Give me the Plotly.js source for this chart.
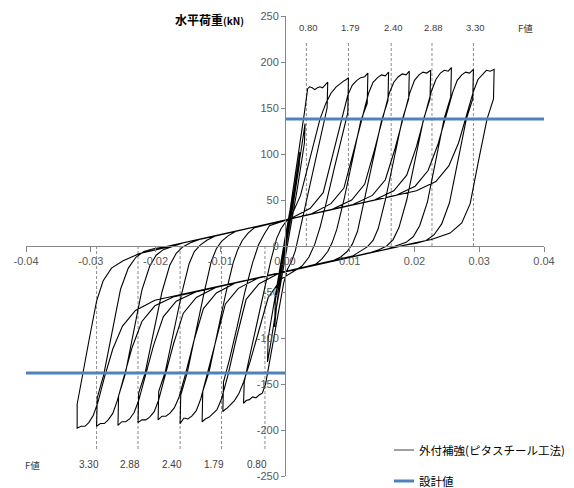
<!DOCTYPE html>
<html>
<head>
<meta charset="utf-8">
<script src="https://cdn.plot.ly/plotly-3.0.1.min.js"></script>
<style>html,body{margin:0;padding:0;background:#fff;}#chart{width:574px;height:488px;}</style>
</head>
<body>
<div id="chart"></div>
<script>
// ---- axis ticks ----
const xTickVals = [-0.04, -0.03, -0.02, -0.01, 0, 0.01, 0.02, 0.03, 0.04];
const xTickText = ['-0.04', '-0.03', '-0.02', '-0.01', '0.00', '0.01', '0.02', '0.03', '0.04'];
const yTickVals = [-250, -200, -150, -100, -50, 0, 50, 100, 150, 200, 250];
const yTickText = ['-250', '-200', '-150', '-100', '-50', '0', '50', '100', '150', '200', '250'];

// ---- F value markers ----
const fTopX = [0.0033, 0.0098, 0.0164, 0.0227, 0.0291];
const fTopLabels = ['0.80', '1.79', '2.40', '2.88', '3.30'];
const fBotX = [-0.0291, -0.0227, -0.0162, -0.0098, -0.0031];
const fBotLabels = ['3.30', '2.88', '2.40', '1.79', '0.80'];
const fTitle = 'F値';

// ---- design value ----
const designLoad = 138;
const seriesName = '外付補強(ピタスチール工法)';
const designName = '設計値';

// ---- hysteresis data (drift angle rad, load kN), in loading order ----
const s0X = [0, 0.0006, 0.0011, 0.0010, 0.0002, -0.0004, -0.0010, -0.0011, -0.0010, -0.0002, 0.0006, 0.0014, 0.0020, 0.0023, 0.0022, 0.0012, 0.0002, -0.0006, -0.0013, -0.0016, -0.0015, -0.0006, 0.0004, 0.0014, 0.0024, 0.0031, 0.0030, 0.0019, 0.0008, -0.0004, -0.0014, -0.0023, -0.0027, -0.0026, -0.0015, -0.0004, 0.0008, 0.0020, 0.0030];
const s0Y = [0, 28, 52, 42, 8, -14, -45, -52, -42, -8, 24, 60, 88, 102, 88, 42, 2, -30, -65, -88, -60, -22, 14, 56, 100, 133, 112, 62, 18, -28, -70, -110, -126, -100, -52, -8, 40, 95, 145];

const l1X = [0.0035, 0.0038, 0.0042, 0.0046, 0.0050, 0.0054, 0.0058, 0.0062, 0.0066, 0.0065, 0.0056, 0.0045, 0.0034, 0.0024, 0.0016, 0.0010, 0.0004, -0.0002, -0.0012, -0.0022, -0.0030, -0.0035, -0.0040, -0.0045, -0.0050, -0.0055, -0.0060, -0.0064, -0.0063, -0.0054, -0.0043, -0.0032, -0.0022, -0.0013, -0.0006, 0.0002];
const l1Y = [171, 173, 172, 170, 172, 173, 172, 175, 178, 150, 122, 88, 52, 20, -5, -17, -25, -40, -80, -120, -150, -160, -162, -165, -164, -167, -168, -171, -148, -118, -84, -48, -16, 8, 19, 27];

const l2X = [0.0012, 0.0024, 0.0034, 0.0044, 0.0054, 0.0063, 0.0071, 0.0079, 0.0086, 0.0092, 0.0095, 0.0098, 0.0097, 0.0088, 0.0076, 0.0064, 0.0054, 0.0046, 0.0037, 0.0026, -0.0006, -0.0026, -0.0041, -0.0054, -0.0064, -0.0071, -0.0078, -0.0084, -0.0089, -0.0093, -0.0096, -0.0095, -0.0086, -0.0074, -0.0062, -0.0050, -0.0041, -0.0032, -0.0024];
const l2Y = [36, 55, 82, 112, 138, 155, 166, 173, 177, 180, 181, 183, 145, 120, 84, 48, 20, 2, -12, -22, -36, -56, -95, -126, -148, -160, -168, -173, -176, -178, -180, -148, -124, -88, -50, -18, 1, 13, 22];

const l3X = [0.0009, 0.0039, 0.0059, 0.0074, 0.0087, 0.0097, 0.0104, 0.0111, 0.0117, 0.0123, 0.0128, 0.0127, 0.0117, 0.0104, 0.0091, 0.0080, 0.0073, 0.0066, 0.0057, 0.0047, -0.0010, -0.0040, -0.0060, -0.0075, -0.0088, -0.0098, -0.0105, -0.0111, -0.0117, -0.0123, -0.0128, -0.0127, -0.0117, -0.0104, -0.0091, -0.0080, -0.0073, -0.0066, -0.0057, -0.0047];
const l3Y = [30, 41, 58, 100, 138, 164, 175, 180, 183, 184, 188, 155, 136, 93, 50, 18, 4, -6, -14, -20, -30, -41, -58, -100, -140, -166, -178, -182, -186, -188, -191, -158, -136, -93, -50, -18, -4, 6, 14, 20];

const l4X = [0.0041, 0.0071, 0.0091, 0.0106, 0.0119, 0.0129, 0.0136, 0.0143, 0.0149, 0.0155, 0.0160, 0.0159, 0.0149, 0.0136, 0.0123, 0.0112, 0.0104, 0.0096, 0.0086, 0.0074, -0.0042, -0.0072, -0.0092, -0.0107, -0.0120, -0.0130, -0.0137, -0.0144, -0.0150, -0.0156, -0.0162, -0.0161, -0.0151, -0.0138, -0.0125, -0.0114, -0.0106, -0.0098, -0.0088, -0.0076];
const l4Y = [35, 46, 63, 103, 140, 166, 178, 183, 186, 185, 189, 158, 136, 93, 50, 16, 2, -6, -12, -16, -35, -46, -63, -103, -140, -166, -179, -185, -188, -187, -193, -162, -138, -94, -51, -17, -3, 5, 11, 16];

const l5X = [0.0073, 0.0103, 0.0123, 0.0138, 0.0151, 0.0161, 0.0168, 0.0175, 0.0181, 0.0187, 0.0192, 0.0191, 0.0181, 0.0168, 0.0155, 0.0144, 0.0136, 0.0127, 0.0116, 0.0104, -0.0076, -0.0106, -0.0126, -0.0141, -0.0154, -0.0164, -0.0171, -0.0178, -0.0184, -0.0190, -0.0196, -0.0195, -0.0185, -0.0172, -0.0159, -0.0148, -0.0140, -0.0131, -0.0120, -0.0107];
const l5Y = [40, 50, 67, 104, 140, 166, 178, 184, 187, 186, 190, 160, 137, 93, 50, 19, 6, -1, -6, -11, -40, -51, -68, -104, -140, -165, -176, -182, -185, -185, -189, -158, -137, -94, -50, -19, -6, 1, 6.5, 11];

const l6X = [0.0105, 0.0135, 0.0155, 0.0170, 0.0183, 0.0193, 0.0200, 0.0207, 0.0213, 0.0219, 0.0225, 0.0224, 0.0214, 0.0201, 0.0188, 0.0176, 0.0167, 0.0157, 0.0145, 0.0130, -0.0107, -0.0137, -0.0157, -0.0172, -0.0185, -0.0195, -0.0202, -0.0209, -0.0215, -0.0221, -0.0227, -0.0226, -0.0216, -0.0203, -0.0190, -0.0178, -0.0168, -0.0158, -0.0146, -0.0130];
const l6Y = [45, 55, 72, 106, 141, 167, 180, 186, 189, 188, 191, 160, 138, 94, 50, 20, 7, 0, -4, -7.5, -45, -56, -73, -106, -141, -167, -180, -186, -189, -189, -192, -160, -138, -94, -50, -21, -8, -1, 3.5, 7.5];

const l7X = [0.0138, 0.0168, 0.0188, 0.0203, 0.0216, 0.0226, 0.0233, 0.0240, 0.0246, 0.0252, 0.0257, 0.0256, 0.0246, 0.0233, 0.0220, 0.0208, 0.0198, 0.0187, 0.0174, 0.0158, -0.0138, -0.0168, -0.0188, -0.0203, -0.0216, -0.0226, -0.0233, -0.0240, -0.0246, -0.0252, -0.0258, -0.0257, -0.0247, -0.0234, -0.0221, -0.0209, -0.0199, -0.0188, -0.0175, -0.0158];
const l7Y = [50, 60, 77, 108, 142, 168, 181, 188, 191, 190, 194, 162, 139, 94, 48, 22, 10, 4, 0.5, -3.3, -50, -60, -77, -108, -142, -168, -181, -188, -191, -191, -195, -163, -140, -94, -48, -22, -10, -4, -0.5, 3.3];

const l8X = [0.0171, 0.0201, 0.0221, 0.0236, 0.0249, 0.0259, 0.0266, 0.0273, 0.0279, 0.0285, 0.0291, 0.0290, 0.0280, 0.0267, 0.0254, 0.0242, 0.0230, 0.0218, 0.0203, 0.0185, -0.0171, -0.0201, -0.0221, -0.0236, -0.0249, -0.0259, -0.0266, -0.0273, -0.0279, -0.0285, -0.0291, -0.0290, -0.0280, -0.0267, -0.0254, -0.0242, -0.0230, -0.0218, -0.0203, -0.0185];
const l8Y = [55, 65, 82, 110, 142, 167, 180, 186, 189, 188, 192, 160, 138, 93, 47, 24, 12, 6, 3, 0.8, -55, -65, -82, -110, -143, -168, -182, -189, -193, -193, -196, -165, -140, -94, -47, -24, -12, -6, -3, -0.8];

const l9X = [0.0203, 0.0233, 0.0253, 0.0268, 0.0281, 0.0291, 0.0298, 0.0305, 0.0311, 0.0317, 0.0323, 0.0322, 0.0312, 0.0299, 0.0286, 0.0273, 0.0255, 0.0226, 0.0201, 0.0170, -0.0201, -0.0231, -0.0251, -0.0266, -0.0279, -0.0289, -0.0296, -0.0303, -0.0309, -0.0315, -0.0321, -0.0321, -0.0313, -0.0302, -0.0291, -0.0281, -0.0268, -0.0250, -0.0224, -0.0195, -0.0165];
const l9Y = [60, 70, 87, 112, 143, 168, 181, 187, 191, 190, 192, 160, 138, 93, 46, 25, 14, 7, 3.6, -1.5, -59, -70, -87, -112, -143, -170, -184, -192, -196, -196, -198, -172, -140, -100, -60, -38, -24, -16, -8, -3, 1.5];

const hystX = [].concat(s0X, l1X, l2X, l3X, l4X, l5X, l6X, l7X, l8X, l9X);
const hystY = [].concat(s0Y, l1Y, l2Y, l3Y, l4Y, l5Y, l6Y, l7Y, l8Y, l9Y);

// ---- build traces ----
const xMin = xTickVals[0], xMax = xTickVals[xTickVals.length - 1];
const dashTop = 222, dashBot = -222;
const dX = [], dY = [];
fTopX.forEach(v => { dX.push(v, v, null); dY.push(0, dashTop, null); });
fBotX.forEach(v => { dX.push(v, v, null); dY.push(0, dashBot, null); });

const hystColor = '#000000', designColor = '#4F81BD';
const traces = [
  { x: dX, y: dY, mode: 'lines', showlegend: false, hoverinfo: 'skip',
    line: { color: '#8c8c8c', width: 1, dash: '3px,2px' } },
  { x: hystX, y: hystY, mode: 'lines', name: seriesName, showlegend: false,
    line: { color: hystColor, width: 1.1 } },
  { x: [0, xMax, null, xMin, 0], y: [designLoad, designLoad, null, -designLoad, -designLoad],
    mode: 'lines', name: designName, showlegend: false,
    line: { color: designColor, width: 3 } }
];

// pixel helpers for paper-positioned legend (plot area: x 26..544, y 16..476)
const PL = 26, PR = 544, PT = 16, PB = 476;
const px = v => (v - PL) / (PR - PL);
const py = v => (PB - v) / (PB - PT);

const labFont = { family: 'Liberation Sans, Arial, sans-serif', size: 9.5, color: '#404040' };
const annotations = [];
fTopX.forEach((v, i) => annotations.push({ x: v, y: 237, xref: 'x', yref: 'y', text: fTopLabels[i],
  showarrow: false, xshift: 2, font: labFont }));
fBotX.forEach((v, i) => annotations.push({ x: v, y: -238, xref: 'x', yref: 'y', text: fBotLabels[i],
  showarrow: false, xshift: -8, font: Object.assign({}, labFont, { size: 10 }) }));
annotations.push({ x: 0.0372, y: 237, xref: 'x', yref: 'y', text: fTitle, showarrow: false,
  font: { family: 'Noto Sans CJK JP', size: 9.5, color: '#404040' } });
annotations.push({ x: -0.0390, y: -238, xref: 'x', yref: 'y', text: fTitle, showarrow: false,
  font: { family: 'Noto Sans CJK JP', size: 9.5, color: '#404040' } });
annotations.push({ x: -0.0060, y: 246, xref: 'x', yref: 'y', xanchor: 'right', yanchor: 'middle',
  text: '<b>水平荷重<span style="font-size:10px">(kN)</span></b>', showarrow: false,
  font: { family: 'Noto Sans CJK JP', size: 12, color: '#000' } });
annotations.push({ x: 0.0435, y: -37, xref: 'x', yref: 'y', xanchor: 'right', yanchor: 'middle',
  text: '<b>層間変形角<span style="font-size:10px">(rad)</span></b>', showarrow: false,
  font: { family: 'Noto Sans CJK JP', size: 12, color: '#000' } });
// legend texts
const legFont = { family: 'Noto Sans CJK JP', size: 11.5, color: '#000' };
annotations.push({ x: px(417), y: py(450), xref: 'paper', yref: 'paper', xanchor: 'left', yanchor: 'middle',
  text: seriesName, showarrow: false, font: legFont });
annotations.push({ x: px(417), y: py(481), xref: 'paper', yref: 'paper', xanchor: 'left', yanchor: 'middle',
  text: designName, showarrow: false, font: legFont });

const shapes = [
  { type: 'line', xref: 'paper', yref: 'paper', x0: px(394), x1: px(414), y0: py(450), y1: py(450),
    line: { color: '#404040', width: 1 } },
  { type: 'line', xref: 'paper', yref: 'paper', x0: px(394), x1: px(414), y0: py(481), y1: py(481),
    line: { color: designColor, width: 3 } }
];

const tickFont = { family: 'Liberation Sans, Arial, sans-serif', size: 11, color: '#595959' };
const layout = {
  width: 574, height: 488,
  margin: { l: PL, r: 574 - PR, t: PT, b: 488 - PB, pad: 0 },
  paper_bgcolor: '#ffffff', plot_bgcolor: '#ffffff',
  showlegend: false,
  xaxis: { range: [xMin, xMax], anchor: 'free', position: 0.5, showline: true, linecolor: '#868686',
    linewidth: 1, ticks: 'outside', ticklen: 5, tickcolor: '#868686', tickmode: 'array',
    tickvals: xTickVals, ticktext: xTickText, tickfont: tickFont, showgrid: false, zeroline: false,
    fixedrange: true },
  yaxis: { range: [yTickVals[0], yTickVals[yTickVals.length - 1]], anchor: 'free', position: 0.5,
    showline: true, linecolor: '#868686', linewidth: 1, ticks: 'outside', ticklen: 4,
    tickcolor: '#868686', tickmode: 'array', tickvals: yTickVals, ticktext: yTickText,
    tickfont: tickFont, showgrid: false, zeroline: false, fixedrange: true },
  annotations: annotations,
  shapes: shapes
};

Plotly.newPlot('chart', traces, layout, { staticPlot: true, displayModeBar: false });
</script>
</body>
</html>
